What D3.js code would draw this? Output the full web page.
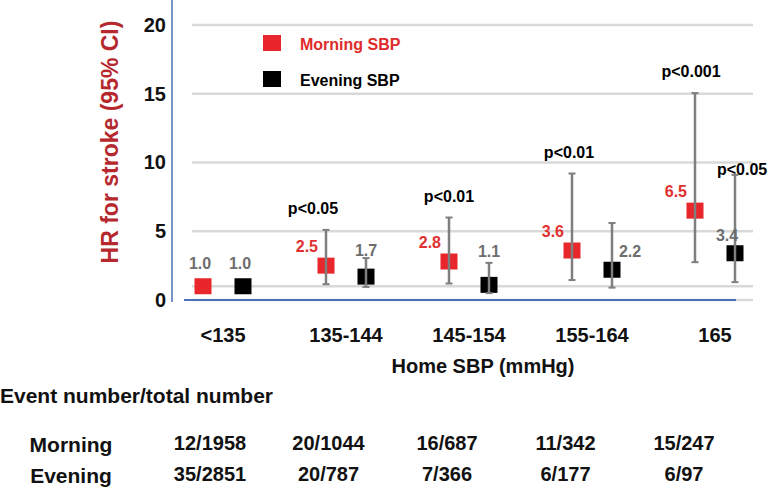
<!DOCTYPE html>
<html>
<head>
<meta charset="utf-8">
<script src="https://cdn.jsdelivr.net/npm/d3@7"></script>
<style>
  body { margin: 0; background: #fff; }
  svg { display: block; font-family: "Liberation Sans", Arial, sans-serif; font-weight: bold; }
</style>
</head>
<body>
<svg id="chart" width="768" height="496"></svg>
<script>
// categories and values
let categories = ["<135", "135-144", "145-154", "155-164", "165"];
let morningHR = [1.0, 2.5, 2.8, 3.6, 6.5];
let morningLow = [null, 1.15, 1.2, 1.45, 2.75];
let morningHigh = [null, 5.1, 6.0, 9.2, 15.05];
let eveningHR = [1.0, 1.7, 1.1, 2.2, 3.4];
let eveningLow = [null, 0.95, 0.5, 0.9, 1.3];
let eveningHigh = [null, 3.05, 2.7, 5.6, 9.1];
let morningP = [null, "p<0.05", "p<0.01", "p<0.01", "p<0.001"];
let eveningP = [null, null, null, null, "p<0.05"];
let morningCounts = ["12/1958", "20/1044", "16/687", "11/342", "15/247"];
let eveningCounts = ["35/2851", "20/787", "7/366", "6/177", "6/97"];
let yTicks = [0, 5, 10, 15, 20];

// label nudges (layout only)
let eveningLabelNudge = [[-3, -17], [0, -21], [0, -28], [18, -13], [-8, -12]];
let morningPNudge = [0, -13, 0, -3, -4];

const RED = "#e8262b";
const GRAY = "#6e6e6e";
const BAR = "#7f7f7f";
const GRID = "#d9d9d9";
const BLUE = "#4a72b8";

let svg = d3.select("#chart");

let x = d3.scalePoint().domain(categories).range([223, 715]);
let y = d3.scaleLinear().domain([0, 20]).range([300, 25]);
let cols = d3.scalePoint().domain(categories).range([210, 684]);

// gridlines (incl. reference line at HR = 1)
svg.append("g")
  .selectAll("line")
  .data([0, 1, 5, 10, 15, 20])
  .join("line")
  .attr("x1", 192).attr("x2", 753)
  .attr("y1", d => y(d)).attr("y2", d => y(d))
  .attr("stroke", GRID)
  .attr("stroke-width", 2.5);

// axis lines
svg.append("line")
  .attr("x1", 172).attr("x2", 172).attr("y1", 0).attr("y2", 302)
  .attr("stroke", BLUE).attr("stroke-width", 1.5);
svg.append("line")
  .attr("x1", 184).attr("x2", 736).attr("y1", y(0)).attr("y2", y(0))
  .attr("stroke", BLUE).attr("stroke-width", 2);

// y axis labels
let yAxis = svg.append("g")
  .attr("transform", "translate(172,0)")
  .call(d3.axisLeft(y).tickValues(yTicks).tickSize(0).tickPadding(6));
yAxis.select(".domain").remove();
yAxis.selectAll("text")
  .attr("font-size", 20)
  .attr("font-family", "Liberation Sans, Arial, sans-serif")
  .attr("font-weight", "bold")
  .attr("fill", "#111");

svg.append("text")
  .attr("transform", "translate(118,142) rotate(-90)")
  .attr("text-anchor", "middle")
  .attr("font-size", 23)
  .attr("fill", "#b5292e")
  .text("HR for stroke (95% CI)");

// x category labels
svg.append("g")
  .selectAll("text")
  .data(categories)
  .join("text")
  .attr("x", d => x(d))
  .attr("y", 342)
  .attr("text-anchor", "middle")
  .attr("font-size", 20)
  .attr("fill", "#111")
  .text(d => d);

svg.append("text")
  .attr("x", 483).attr("y", 373)
  .attr("text-anchor", "middle")
  .attr("font-size", 20)
  .attr("fill", "#111")
  .text("Home SBP (mmHg)");

// build rows for the two series
let series = [
  { name: "morning", color: RED, dx: -20, hr: morningHR, lo: morningLow, hi: morningHigh, p: morningP },
  { name: "evening", color: "#000", dx: 20, hr: eveningHR, lo: eveningLow, hi: eveningHigh, p: eveningP }
];

series.forEach(s => {
  let rows = categories.map((c, i) => ({
    cat: c, i: i, hr: s.hr[i], lo: s.lo[i], hi: s.hi[i], p: s.p[i]
  }));
  let g = svg.append("g").attr("class", s.name);

  // markers
  g.selectAll("rect")
    .data(rows)
    .join("rect")
    .attr("x", d => x(d.cat) + s.dx - 8.5)
    .attr("y", d => y(d.hr) - 8)
    .attr("width", 17)
    .attr("height", 16)
    .attr("fill", s.color);

  // error bars over markers
  let ci = rows.filter(d => d.lo != null);
  g.selectAll("line.whisker")
    .data(ci)
    .join("line")
    .attr("class", "whisker")
    .attr("x1", d => x(d.cat) + s.dx).attr("x2", d => x(d.cat) + s.dx)
    .attr("y1", d => y(d.lo)).attr("y2", d => y(d.hi))
    .attr("stroke", BAR).attr("stroke-width", 2.5);
  ["lo", "hi"].forEach(k => {
    g.selectAll("line.cap-" + k)
      .data(ci)
      .join("line")
      .attr("class", "cap-" + k)
      .attr("x1", d => x(d.cat) + s.dx - 3.5).attr("x2", d => x(d.cat) + s.dx + 3.5)
      .attr("y1", d => y(d[k])).attr("y2", d => y(d[k]))
      .attr("stroke", BAR).attr("stroke-width", 2);
  });

  // value labels
  g.selectAll("text.val")
    .data(rows)
    .join("text")
    .attr("class", "val")
    .attr("font-size", 16)
    .attr("x", d => {
      if (s.name == "evening") return x(d.cat) + s.dx + eveningLabelNudge[d.i][0];
      return d.i == 0 ? x(d.cat) + s.dx - 3 : x(d.cat) + s.dx - 8;
    })
    .attr("y", d => {
      if (s.name == "evening") return y(d.hr) + eveningLabelNudge[d.i][1];
      return d.i == 0 ? y(d.hr) - 17 : y(d.hr) - 14;
    })
    .attr("text-anchor", d => (s.name == "morning" && d.i > 0) ? "end" : "middle")
    .attr("fill", d => (s.name == "morning" && d.i > 0) ? "#e03030" : GRAY)
    .text(d => d.hr.toFixed(1));

  // p values
  g.selectAll("text.pval")
    .data(rows.filter(d => d.p))
    .join("text")
    .attr("class", "pval")
    .attr("font-size", 16)
    .attr("fill", "#000")
    .attr("text-anchor", s.name == "morning" ? "middle" : "start")
    .attr("x", d => s.name == "morning" ? x(d.cat) + s.dx + morningPNudge[d.i] : x(d.cat) + s.dx - 18)
    .attr("y", d => s.name == "morning" ? y(d.hi) - 16 : y(d.hi))
    .text(d => d.p);
});

// legend
let legend = [
  { label: "Morning SBP", color: RED, text: "#e02b2b" },
  { label: "Evening SBP", color: "#000", text: "#000" }
];
let lg = svg.append("g").selectAll("g")
  .data(legend)
  .join("g")
  .attr("transform", (d, i) => `translate(263,${35 + i * 36})`);
lg.append("rect").attr("width", 18).attr("height", 16).attr("fill", d => d.color);
lg.append("text")
  .attr("x", 37).attr("y", 15)
  .attr("font-size", 16)
  .attr("fill", d => d.text)
  .text(d => d.label);

// event table
svg.append("text")
  .attr("x", 0).attr("y", 403)
  .attr("font-size", 21)
  .attr("fill", "#111")
  .text("Event number/total number");

let tableRows = [
  { label: "Morning", counts: morningCounts, y: 452 },
  { label: "Evening", counts: eveningCounts, y: 483 }
];
tableRows.forEach(r => {
  svg.append("text")
    .attr("x", 71).attr("y", r.y)
    .attr("text-anchor", "middle")
    .attr("font-size", 21)
    .attr("fill", "#111")
    .text(r.label);
  svg.append("g").selectAll("text")
    .data(r.counts)
    .join("text")
    .attr("x", (d, i) => cols(categories[i]))
    .attr("y", r.y - 2)
    .attr("text-anchor", "middle")
    .attr("font-size", 20)
    .attr("fill", "#111")
    .text(d => d);
});
</script>
</body>
</html>
